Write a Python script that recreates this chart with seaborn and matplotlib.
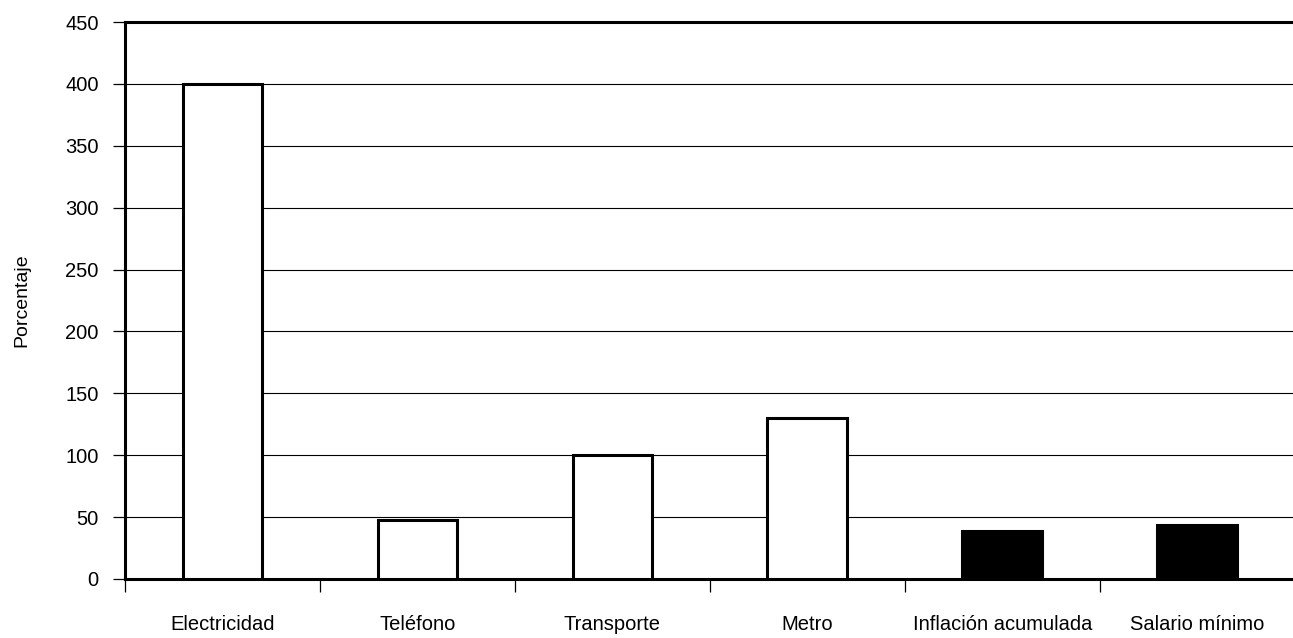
import pandas as pd
import matplotlib
matplotlib.use('Agg')
import matplotlib.pyplot as plt
from matplotlib.ticker import FixedLocator, MultipleLocator
import seaborn as sns

sns.set_style('white')
plt.rcParams['font.family'] = ['Liberation Sans', 'DejaVu Sans']
plt.rcParams['text.color'] = 'black'
plt.rcParams['axes.labelcolor'] = 'black'
plt.rcParams['xtick.color'] = 'black'
plt.rcParams['ytick.color'] = 'black'

# datos
categorias = ['Electricidad', 'Teléfono', 'Transporte', 'Metro',
              'Inflación acumulada', 'Salario mínimo']
porcentaje = [400, 48, 100, 130, 39, 44]
colores = ['white', 'white', 'white', 'white', 'black', 'black']

df = pd.DataFrame({'Categoria': categorias, 'Porcentaje': porcentaje})

fig = plt.figure(figsize=(12.93, 6.38), dpi=100)
ax = fig.add_axes([125 / 1293, 1 - 579 / 638, 1 - 125 / 1293, (579 - 22) / 638])

sns.barplot(data=df, x='Categoria', y='Porcentaje', hue='Categoria',
            palette=colores, edgecolor='black', linewidth=2.2, width=0.41,
            legend=False, ax=ax, zorder=3)

ax.set_xlim(-0.5, 5.49)
ax.set_ylim(0, 450)
ax.yaxis.set_major_locator(MultipleLocator(50))
ax.grid(axis='y', color='black', linewidth=0.8, zorder=0)
ax.set_axisbelow(True)

# marcas del eje x entre categorias
ax.xaxis.set_minor_locator(FixedLocator([i - 0.5 for i in range(len(categorias))]))
ax.tick_params(axis='x', which='major', length=0, pad=26, labelsize=14.5)
ax.tick_params(axis='x', which='minor', bottom=True, length=9, width=0.9)
ax.tick_params(axis='y', which='major', left=True, length=9, width=0.9, pad=10,
               labelsize=14.5)

for s in ['left', 'bottom', 'top']:
    ax.spines[s].set_linewidth(2.2)
    ax.spines[s].set_color('black')
ax.spines['right'].set_visible(False)

ax.set_xlabel('')
ax.set_ylabel('Porcentaje', fontsize=14, labelpad=25)

plt.savefig('out.png', dpi=100)
